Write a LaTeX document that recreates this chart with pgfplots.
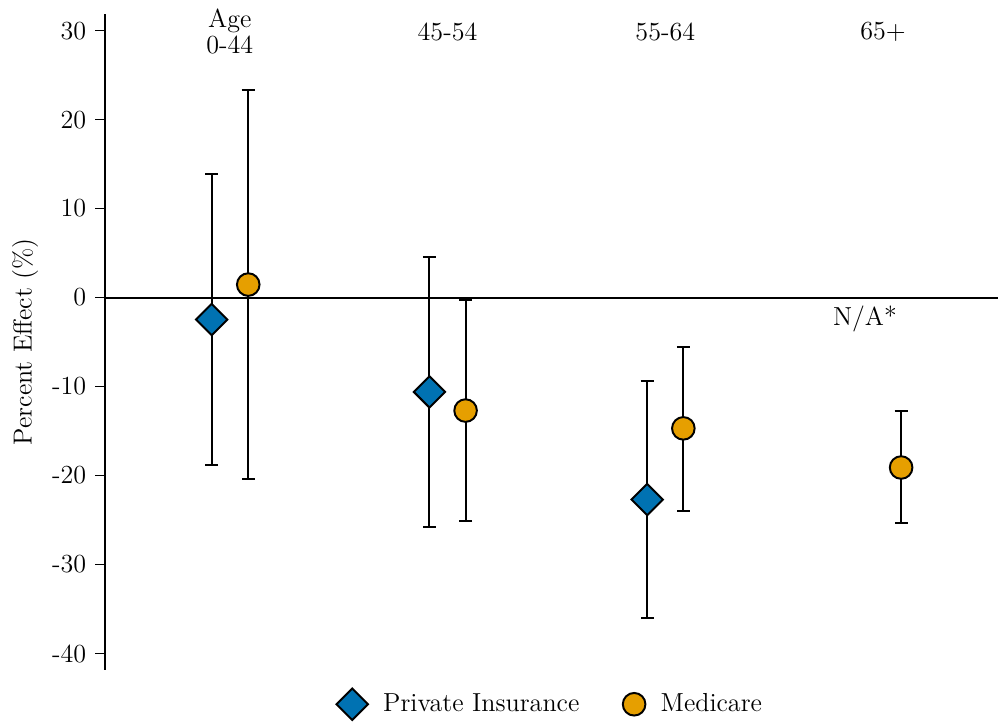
\documentclass[12pt,border=0pt]{standalone}
\usepackage{pgfplots}
\pgfplotsset{compat=1.18}
\usepackage{pgfplotstable}
\definecolor{cblue}{RGB}{0,114,178}
\definecolor{corange}{RGB}{230,159,0}
\pgfplotstableread{
x y ep em
0.917 -2.47 16.37 16.33
1.917 -10.6 15.2 15.2
2.917 -22.7 13.3 13.3
}\privdata
\pgfplotstableread{
x y ep em
1.085 1.46 21.84 21.86
2.083 -12.7 12.4 12.4
3.083 -14.7 9.1 9.3
4.083 -19.1 6.3 6.2
}\meddata
\begin{document}
\begin{tikzpicture}
\begin{axis}[
  scale only axis,
  width=411pt, height=301.8pt,
  xmin=0.427, xmax=4.528,
  ymin=-41.8, ymax=31.9,
  axis x line=none,
  axis y line*=left,
  axis line style={line width=0.9pt},
  ytick={-40,-30,-20,-10,0,10,20,30},
  yticklabels={-40,-30,-20,-10,0,10,20,30},
  tick align=outside,
  major tick length=4.5pt,
  tick style={black, line width=0.8pt},
  ylabel={Percent Effect (\%)},
  ylabel style={at={(axis description cs:-0.0895,0.5)}, anchor=center},
  clip=false,
  legend style={draw=none, at={(0.5,-0.053)}, anchor=center, legend columns=2,
    /tikz/every even column/.append style={column sep=18pt},
    /tikz/every odd column/.append style={column sep=5pt}},
]
\addplot[black, line width=0.9pt, forget plot] coordinates {(0.427,0) (4.528,0)};
\addplot[only marks, mark=square*, mark options={rotate=45, fill=cblue, draw=black, line width=0.9pt, mark size=5.1pt},
  error bars/.cd, y dir=both, y explicit,
  error bar style={black, line width=0.9pt},
  error mark options={rotate=90, mark size=3pt, line width=0.9pt, black}]
  table[x=x, y=y, y error plus=ep, y error minus=em] {\privdata};
\addlegendentry{Private Insurance}
\addplot[only marks, mark=*, mark options={fill=corange, draw=black, line width=0.9pt, mark size=5.2pt},
  error bars/.cd, y dir=both, y explicit,
  error bar style={black, line width=0.9pt},
  error mark options={rotate=90, mark size=3pt, line width=0.9pt, black}]
  table[x=x, y=y, y error plus=ep, y error minus=em] {\meddata};
\addlegendentry{Medicare}
\node[align=center, anchor=center, font=\fontsize{12}{12.2}\selectfont] at (axis cs:1,29.9) {Age\\0-44};
\node[anchor=center] at (axis cs:2,29.9) {45-54};
\node[anchor=center] at (axis cs:3,29.9) {55-64};
\node[anchor=center] at (axis cs:4,29.9) {65+};
\node[anchor=center] at (axis cs:3.917,-2.4) {N/A*};
\path (axis cs:-0.055,33.4) rectangle (axis cs:4.528,-47.6);
\end{axis}
\end{tikzpicture}
\end{document}
